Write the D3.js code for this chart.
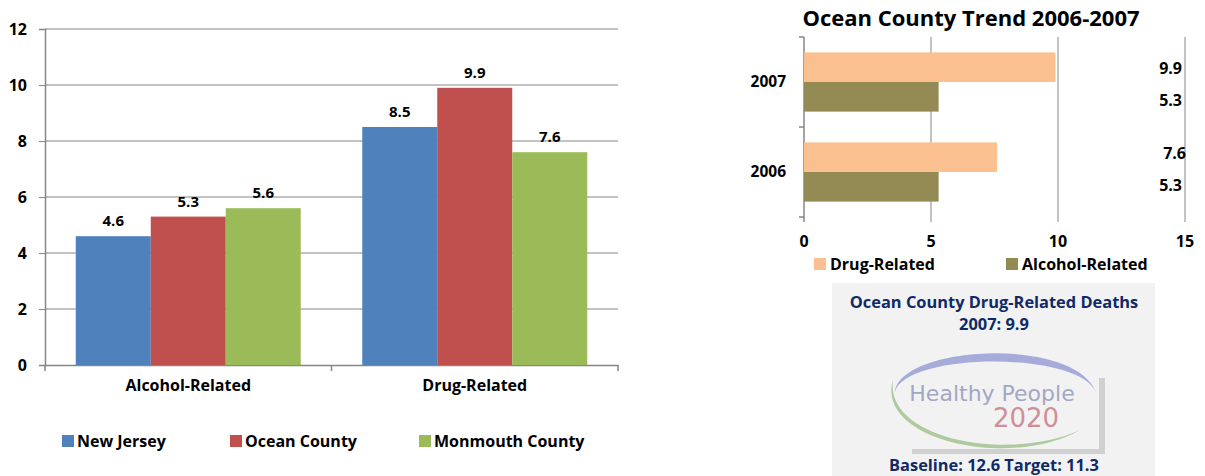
<!DOCTYPE html>
<html><head><meta charset="utf-8">
<script src="https://cdn.jsdelivr.net/npm/d3@7"></script>
<style>
body{margin:0;background:#fff;}
svg text{font-family:"Open Sans",Lato,"Liberation Sans",sans-serif;font-weight:700;fill:#000;}
</style></head>
<body><svg id="c" width="1205" height="476"></svg>
<script>
// ---- data: left chart
const categories = ["Alcohol-Related", "Drug-Related"];
const seriesNames = ["New Jersey", "Ocean County", "Monmouth County"];
const newJersey = [4.6, 8.5];
const oceanCounty = [5.3, 9.9];
const monmouthCounty = [5.6, 7.6];
const yTicks = [0, 2, 4, 6, 8, 10, 12];
// ---- data: right chart
const years = ["2007", "2006"];
const trendSeries = ["Drug-Related", "Alcohol-Related"];
const drugTrend = [9.9, 7.6];
const alcoholTrend = [5.3, 5.3];
const xTicks = [0, 5, 10, 15];
const trendTitle = "Ocean County Trend 2006-2007";
const boxLines = ["Ocean County Drug-Related Deaths", "2007: 9.9"];
const boxFooter = "Baseline: 12.6 Target: 11.3";

const svg = d3.select("#c");
const gridCol = "#868686";

// ================= LEFT CHART =================
const colors = ["#4F81BD", "#C0504D", "#9BBB59"];
const seriesVals = [newJersey, oceanCounty, monmouthCounty];
const L = {x0: 45, x1: 618, y0: 29, y1: 365};
const y = d3.scaleLinear().domain([0, 12]).range([L.y1, L.y0]);
const x0 = d3.scaleBand().domain(categories).range([L.x0, L.x1]).paddingInner(0).paddingOuter(0);
const x1 = d3.scaleBand().domain(seriesNames).range([0, x0.bandwidth()]).paddingInner(0).paddingOuter(0.41);

const gl = svg.append("g");
gl.selectAll("line.grid").data(yTicks.filter(d => d > 0)).join("line")
  .attr("x1", L.x0).attr("x2", L.x1).attr("y1", d => y(d)).attr("y2", d => y(d))
  .attr("stroke", gridCol).attr("stroke-width", 1);
const yAxis = d3.axisLeft(y).tickValues(yTicks).tickSize(6).tickPadding(12).tickFormat(d3.format("d"));
const ya = gl.append("g").attr("transform", `translate(${L.x0},0)`).call(yAxis);
ya.select(".domain").attr("stroke", gridCol).attr("stroke-width", 1.5);
ya.selectAll(".tick line").attr("stroke", gridCol);
ya.selectAll(".tick text").style("font-size", "16px").style("font-family", "'Open Sans'").attr("fill", "#000");
const xa = gl.append("g").attr("transform", `translate(0,${L.y1})`)
  .call(d3.axisBottom(x0).tickSize(0).tickPadding(15));
xa.select(".domain").attr("stroke", gridCol).attr("stroke-width", 1.5);
xa.selectAll(".tick text").style("font-size", "16px").style("font-family", "'Open Sans'").attr("fill", "#000");
gl.selectAll("line.ctick").data([L.x0, x0("Drug-Related"), L.x1]).join("line")
  .attr("x1", d => d).attr("x2", d => d).attr("y1", L.y1).attr("y2", L.y1 + 6)
  .attr("stroke", gridCol).attr("stroke-width", 1.5);
const groups = gl.selectAll("g.grp").data(categories).join("g")
  .attr("transform", d => `translate(${x0(d)},0)`);
groups.each(function(cat, ci) {
  const g = d3.select(this);
  seriesNames.forEach((s, si) => {
    const v = seriesVals[si][ci];
    g.append("rect").attr("x", x1(s)).attr("width", x1.bandwidth())
      .attr("y", y(v)).attr("height", y(0) - y(v)).attr("fill", colors[si]);
    g.append("text").attr("x", x1(s) + x1.bandwidth() / 2).attr("y", y(v) - 10)
      .attr("text-anchor", "middle").style("font-size", "15px").text(v.toFixed(1));
  });
});
const legX = [62, 230, 419];
const lg = gl.selectAll("g.leg").data(seriesNames).join("g")
  .attr("transform", (d, i) => `translate(${legX[i]},435)`);
lg.append("rect").attr("width", 12).attr("height", 12).attr("fill", (d, i) => colors[i]);
lg.append("text").attr("x", 15).attr("y", 6).attr("dy", "0.35em").style("font-size", "16px").text(d => d);

// ================= RIGHT CHART =================
const tColors = ["#FAC090", "#948A54"];
const R = {x0: 804, x1: 1185, y0: 37, y1: 217};
const xr = d3.scaleLinear().domain([0, 15]).range([R.x0, R.x1]);
const yr0 = d3.scaleBand().domain(years).range([R.y0, R.y1]).paddingInner(0).paddingOuter(0);
const yr1 = d3.scaleBand().domain(trendSeries).range([0, yr0.bandwidth()]).paddingOuter(0.52);
const tVals = [drugTrend, alcoholTrend];
const gr = svg.append("g");
gr.append("text").attr("x", 971).attr("y", 18).attr("dy", "0.35em").attr("text-anchor", "middle")
  .style("font-size", "22px").text(trendTitle);
gr.selectAll("line.vg").data(xTicks.filter(d => d > 0)).join("line")
  .attr("x1", d => xr(d)).attr("x2", d => xr(d)).attr("y1", R.y0).attr("y2", R.y1 + 5)
  .attr("stroke", gridCol).attr("stroke-width", 1);
gr.append("line").attr("x1", R.x0).attr("x2", R.x0).attr("y1", R.y0).attr("y2", R.y1 + 5)
  .attr("stroke", gridCol).attr("stroke-width", 1.5);
gr.selectAll("line.yt").data([R.y0, yr0("2006"), R.y1]).join("line")
  .attr("x1", R.x0 - 5).attr("x2", R.x0).attr("y1", d => d).attr("y2", d => d)
  .attr("stroke", gridCol).attr("stroke-width", 1.5);
gr.selectAll("text.xt").data(xTicks).join("text")
  .attr("x", d => xr(d)).attr("y", 241).attr("dy", "0.35em").attr("text-anchor", "middle")
  .style("font-size", "16px").text(d => d);
gr.selectAll("text.yl").data(years).join("text")
  .attr("x", 786).attr("y", d => yr0(d) + yr0.bandwidth() / 2).attr("dy", "0.35em")
  .attr("text-anchor", "end").style("font-size", "15.5px").text(d => d);
const labelShift = [[1.5, 4], [-3.5, -1]];
years.forEach((yr, yi) => {
  trendSeries.forEach((s, si) => {
    const v = tVals[si][yi];
    const top = yr0(yr) + yr1(s);
    gr.append("rect").attr("x", xr(0)).attr("y", top).attr("width", xr(v) - xr(0))
      .attr("height", yr1.bandwidth()).attr("fill", tColors[si]);
    gr.append("text").attr("x", v === 7.6 ? 1186 : 1182).attr("y", top + yr1.bandwidth() / 2 + labelShift[yi][si])
      .attr("dy", "0.35em").attr("text-anchor", "end").style("font-size", "16px").text(v.toFixed(1));
  });
});
const tLegX = [814, 1006];
const tl = gr.selectAll("g.tl").data(trendSeries).join("g")
  .attr("transform", (d, i) => `translate(${tLegX[i]},258)`);
tl.append("rect").attr("width", 12).attr("height", 12).attr("fill", (d, i) => tColors[i]);
tl.append("text").attr("x", 16).attr("y", 6).attr("dy", "0.35em").style("font-size", "16px").text(d => d);

// ================= INFO BOX =================
const gb = svg.append("g");
gb.append("rect").attr("x", 832).attr("y", 283).attr("width", 323).attr("height", 193).attr("fill", "#f2f2f2");
gb.selectAll("text.bl").data(boxLines).join("text")
  .attr("x", 994).attr("y", (d, i) => 302 + i * 22).attr("dy", "0.35em").attr("text-anchor", "middle")
  .style("font-size", "16.4px").style("fill", "#0f2a66").text(d => d);
gb.append("text").attr("x", 994).attr("y", 465).attr("dy", "0.35em").attr("text-anchor", "middle")
  .style("font-size", "16.4px").style("fill", "#0f2a66").text(boxFooter);
const lgo = gb.append("g");
lgo.append("rect").attr("x", 1099).attr("y", 378).attr("width", 6).attr("height", 76).attr("fill", "#d0d0d0");
lgo.append("rect").attr("x", 912).attr("y", 449).attr("width", 193).attr("height", 5).attr("fill", "#d0d0d0");
lgo.append("path").attr("fill", "#9ea3d6").attr("opacity", 0.9)
  .attr("d", "M 895 392 C 900 345, 1080 335, 1097 395 C 1085 350, 905 352, 895 392 Z");
lgo.append("path").attr("fill", "#a9c596").attr("opacity", 0.9)
  .attr("d", "M 893 380 C 875 440, 1010 470, 1080 430 C 1010 462, 885 440, 893 380 Z");
lgo.append("text").attr("x", 992).attr("y", 401).attr("text-anchor", "middle")
  .style("font-family", "'DejaVu Sans'").style("font-size", "22px").style("font-weight", "400")
  .style("fill", "#a4a7c4").text("Healthy People");
lgo.append("text").attr("x", 1026).attr("y", 427).attr("text-anchor", "middle")
  .style("font-family", "'DejaVu Sans'").style("font-size", "26px").style("font-weight", "400")
  .style("fill", "#cf8f99").text("2020");
</script></body></html>
